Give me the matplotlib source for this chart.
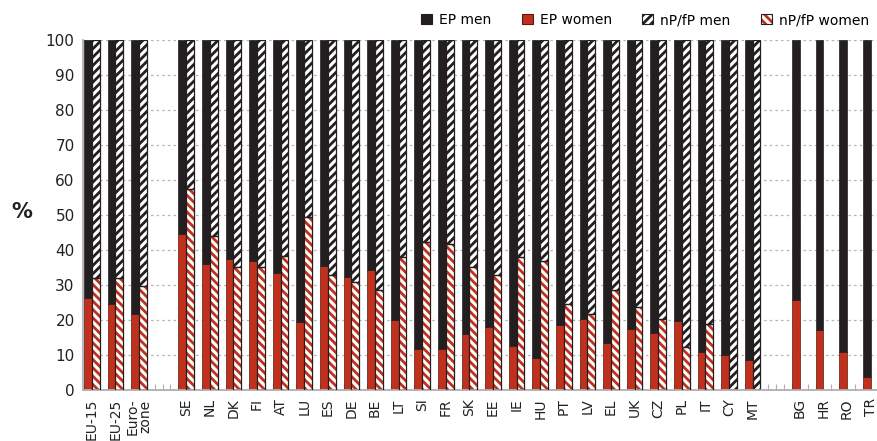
import numpy as np
import matplotlib
matplotlib.use("Agg")
import matplotlib.pyplot as plt
from matplotlib.patches import Patch
from matplotlib.legend_handler import HandlerTuple

# Share of women (%) among members of the European Parliament (EP)
# and national/federal parliaments (nP/fP)
aggregates = ["EU-15", "EU-25", "Euro-\nzone"]
aggregates_ep = [26.2, 24.6, 21.7]
aggregates_np = [31.9, 32.1, 29.8]

members = ["SE", "NL", "DK", "FI", "AT", "LU", "ES", "DE", "BE", "LT", "SI", "FR",
           "SK", "EE", "IE", "HU", "PT", "LV", "EL", "UK", "CZ", "PL", "IT", "CY", "MT"]
members_ep = [44.6, 36.1, 37.4, 36.9, 33.3, 19.4, 35.4, 32.2, 34.2, 20.0, 11.6, 11.6,
              16.1, 18.1, 12.6, 9.2, 18.6, 20.3, 13.3, 17.3, 16.4, 19.6, 11.0, 10.0, 8.6]
members_np = [57.4, 44.1, 35.1, 35.1, 38.4, 49.5, 32.8, 30.9, 28.6, 38.0, 42.4, 41.8,
              35.1, 32.8, 38.0, 36.9, 24.5, 21.7, 28.5, 23.8, 20.2, 12.4, 18.8, 0.0, 0.0]

candidates = ["BG", "HR", "RO", "TR"]
candidates_ep = [25.7, 17.1, 11.0, 3.7]

BLACK = "#231f20"
RED = "#c0301c"

plt.rcParams["font.family"] = ["DejaVu Sans"]
plt.rcParams["hatch.linewidth"] = 2.0

# Positions: groups separated by one empty slot
groups = [(aggregates, aggregates_ep, aggregates_np),
          (members, members_ep, members_np),
          (candidates, candidates_ep, None)]
labels, pos, ep_vals, np_vals, np_pos = [], [], [], [], []
cursor = 0
for names, ep, nps in groups:
    for k, name in enumerate(names):
        labels.append(name)
        pos.append(cursor + k)
        ep_vals.append(ep[k])
        if nps is not None:
            np_pos.append(cursor + k)
            np_vals.append(nps[k])
    cursor += len(names) + 1
pos = np.array(pos, dtype=float)
ep_vals = np.array(ep_vals)
np_pos = np.array(np_pos, dtype=float)
np_vals = np.array(np_vals)

w = 1 / 3
fig = plt.figure(figsize=(8.77, 4.41), dpi=100)
ax = fig.add_axes([83 / 877, 51 / 441, 794 / 877, 350 / 441])

# EP: solid bars, women at the bottom, men stacked to 100
ax.bar(pos - w / 2, ep_vals, width=w, color=RED, edgecolor="#5a1a10", linewidth=0.5, zorder=2)
ax.bar(pos - w / 2, 100 - ep_vals, bottom=ep_vals, width=w, color=BLACK,
       edgecolor=BLACK, linewidth=0.5, zorder=2)

# nP/fP: hatched bars
ax.bar(np_pos + w / 2, np_vals, width=w, color="white", edgecolor=RED, hatch="\\\\\\\\",
       linewidth=0, zorder=2)
ax.bar(np_pos + w / 2, np_vals, width=w, fill=False, edgecolor=BLACK, linewidth=0.9, zorder=3)
ax.bar(np_pos + w / 2, 100 - np_vals, bottom=np_vals, width=w, color="white",
       edgecolor=BLACK, hatch="////", linewidth=0.9, zorder=2)

ax.set_xlim(-0.373, 33.27)
ax.set_ylim(0, 100)
ax.set_yticks(np.arange(0, 101, 10))
ax.set_axisbelow(True)
ax.yaxis.grid(True, color="#b5b5b5", linestyle=(0, (2, 2.5)), linewidth=0.9)

ax.set_xticks(pos)
ax.set_xticklabels(labels, rotation=90, fontsize=10, va="top", ha="center",
                   linespacing=0.9, color="#222222")
ax.tick_params(axis="x", which="major", length=0, pad=6)
ax.set_xticks(np.arange(-1 / 3, 33.3, 1 / 3), minor=True)
ax.tick_params(axis="x", which="minor", direction="in", length=4, color="#b0b0b0", width=0.8)
ax.tick_params(axis="y", direction="in", length=3, color="#b0b0b0", labelsize=11,
               labelcolor="#222222", pad=6)

for side in ("top", "right"):
    ax.spines[side].set_visible(False)
for side in ("left", "bottom"):
    ax.spines[side].set_color("#b0b0b0")
    ax.spines[side].set_linewidth(1.3)

fig.text(22 / 877, 1 - 212 / 441, "%", fontsize=15, ha="center", va="center",
         color="#222222", fontweight="semibold")

handles = [
    Patch(facecolor=BLACK, edgecolor=BLACK, linewidth=0.8),
    Patch(facecolor=RED, edgecolor="#5a1a10", linewidth=0.8),
    Patch(facecolor="white", edgecolor=BLACK, hatch="////", linewidth=0.8),
    (Patch(facecolor="white", edgecolor=RED, hatch="\\\\\\\\", linewidth=0),
     Patch(fill=False, edgecolor=BLACK, linewidth=0.8)),
]
names = ["EP men", "EP women", "nP/fP men", "nP/fP women"]
fig.legend(handles, names, loc="center", bbox_to_anchor=(645 / 877, 1 - 20 / 441),
           ncol=4, frameon=False, fontsize=10, handlelength=0.8, handleheight=0.8,
           handletextpad=0.5, columnspacing=2.2, borderaxespad=0,
           handler_map={tuple: HandlerTuple(ndivide=1, pad=0)})

fig.savefig("out.png", dpi=100)
